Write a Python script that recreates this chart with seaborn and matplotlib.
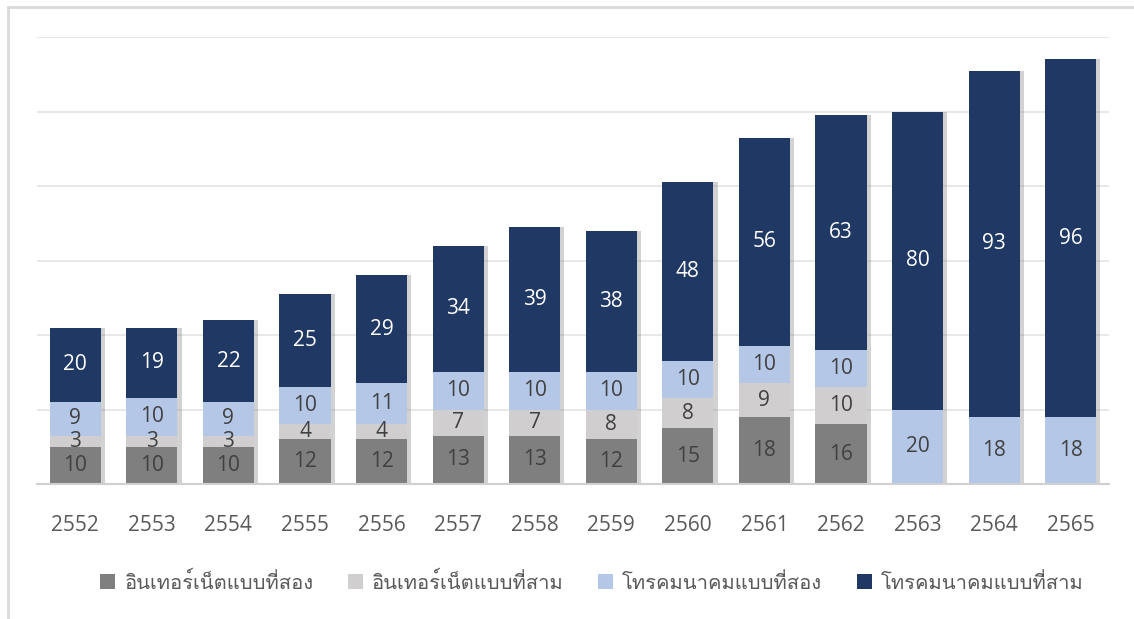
import pandas as pd
import numpy as np
import seaborn as sns
import matplotlib.pyplot as plt
import matplotlib.patheffects as pe
from matplotlib import font_manager as fm
from matplotlib.ft2font import FT2Font
from matplotlib.lines import Line2D

# data
years = ["2552", "2553", "2554", "2555", "2556", "2557", "2558",
         "2559", "2560", "2561", "2562", "2563", "2564", "2565"]
internet_2 = [10, 10, 10, 12, 12, 13, 13, 12, 15, 18, 16, 0, 0, 0]
internet_3 = [3, 3, 3, 4, 4, 7, 7, 8, 8, 9, 10, 0, 0, 0]
phone_2 = [9, 10, 9, 10, 11, 10, 10, 10, 10, 10, 10, 20, 18, 18]
phone_3 = [20, 19, 22, 25, 29, 34, 39, 38, 48, 56, 63, 80, 93, 96]
series_names = ["อินเทอร์เน็ตแบบที่สอง", "อินเทอร์เน็ตแบบที่สาม",
                "โทรคมนาคมแบบที่สอง", "โทรคมนาคมแบบที่สาม"]
yticks = [0, 20, 40, 60, 80, 100, 120]

colors = ["#7f7f7f", "#d0cece", "#b4c7e7", "#203864"]
label_colors = ["#404040", "#404040", "#404040", "#ffffff"]

sns.set_style("white")

# look for a font that has Thai glyphs
thai_font = None
for f in fm.fontManager.ttflist:
    try:
        if ord("อ") in FT2Font(f.fname).get_charmap():
            thai_font = f.name
            break
    except Exception:
        pass
families = ["Open Sans"] + ([thai_font] if thai_font else []) + ["DejaVu Sans"]
plt.rcParams["font.family"] = families

df = pd.DataFrame({"year": years, series_names[0]: internet_2, series_names[1]: internet_3,
                   series_names[2]: phone_2, series_names[3]: phone_3})

fig = plt.figure(figsize=(11.34, 6.19), dpi=100, facecolor="w")
ax = fig.add_axes([37 / 1134, (619 - 484) / 619, 1072 / 1134, 447 / 619])

shadow = [pe.SimplePatchShadow(offset=(3, 0), shadow_rgbFace="#808080", alpha=0.35), pe.Normal()]

bottom = np.zeros(len(years))
for name, c, lc in zip(series_names, colors, label_colors):
    vals = df[name].to_numpy()
    sns.barplot(data=df, x="year", y=name, color=c, width=0.667, bottom=bottom,
                saturation=1, ax=ax, label=name, linewidth=0)
    cont = ax.containers[-1]
    for p in cont:
        p.set_path_effects(shadow)
    ax.bar_label(cont, labels=[str(v) if v > 0 else "" for v in vals], label_type="center",
                 color=lc, fontsize=15)
    bottom = bottom + vals

ax.set_ylim(0, 120)
ax.set_xlim(-0.5, len(years) - 0.5)
ax.set_yticks(yticks)
ax.set_yticklabels([])
ax.yaxis.grid(True, color="#e4e4e4", linewidth=1.2)
ax.set_axisbelow(True)
ax.set_xlabel("")
ax.set_ylabel("")
for s in ["top", "right", "left"]:
    ax.spines[s].set_visible(False)
ax.spines["bottom"].set_color("#d0d0d0")
ax.spines["bottom"].set_linewidth(1.5)
ax.tick_params(axis="x", length=0, pad=22, labelsize=15, labelcolor="#595959")
ax.tick_params(axis="y", length=0)

if ax.legend_:
    ax.legend_.remove()
handles, labels = ax.get_legend_handles_labels()
leg = fig.legend(handles, labels, loc="center", bbox_to_anchor=(0.522, (619 - 583) / 619),
                 ncol=4, frameon=False, fontsize=14.5, handlelength=0.75, handleheight=0.75,
                 handletextpad=0.45, columnspacing=1.7)
for t in leg.get_texts():
    t.set_color("#595959")
for h in leg.legend_handles:
    h.set_path_effects([])

# light frame around the chart area
fig.add_artist(Line2D([7.5 / 1134, 1], [1 - 6.5 / 619, 1 - 6.5 / 619], color="#d9d9d9", linewidth=2,
                      transform=fig.transFigure))
fig.add_artist(Line2D([7.5 / 1134, 7.5 / 1134], [0, 1 - 6.5 / 619], color="#d9d9d9", linewidth=2,
                      transform=fig.transFigure))

fig.savefig("out.png", dpi=100, facecolor="w")
